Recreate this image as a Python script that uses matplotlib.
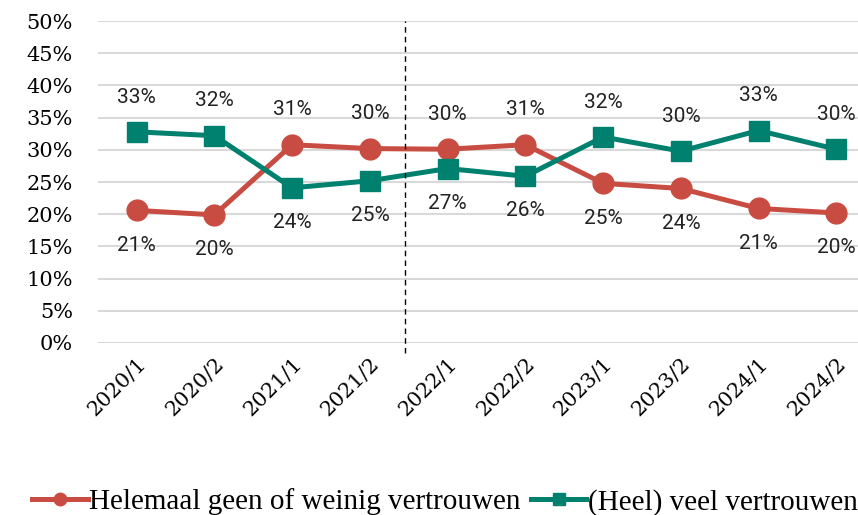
import numpy as np
import matplotlib
matplotlib.use("Agg")
import matplotlib.pyplot as plt

# data
periods = ["2020/1", "2020/2", "2021/1", "2021/2", "2022/1",
           "2022/2", "2023/1", "2023/2", "2024/1", "2024/2"]
weinig = [20.6, 19.9, 30.8, 30.2, 30.1, 30.8, 24.8, 24.0, 20.9, 20.2]
veel = [32.8, 32.2, 24.1, 25.2, 27.1, 25.9, 32.0, 29.8, 33.0, 30.1]
labels_weinig = ["21%", "20%", "31%", "30%", "30%", "31%", "25%", "24%", "21%", "20%"]
labels_veel = ["33%", "32%", "24%", "25%", "27%", "26%", "32%", "30%", "33%", "30%"]

red = "#C94C42"
teal = "#00806F"

fig = plt.figure(figsize=(8.58, 5.15), dpi=100)
ax = fig.add_axes([0.114, 0.334, 0.906, 0.625])

x = np.arange(len(periods))
ax.plot(x, weinig, color=red, lw=3.6, marker="o", ms=15, label="Helemaal geen of weinig vertrouwen")
ax.plot(x, veel, color=teal, lw=3.6, marker="s", ms=15, label="(Heel) veel vertrouwen")

# labels: higher series above, lower below
for i in range(len(x)):
    for val, txt, other in [(weinig[i], labels_weinig[i], veel[i]), (veel[i], labels_veel[i], weinig[i])]:
        off = 25 if val >= other else -25
        ax.annotate(txt, (x[i], val), xytext=(0, off), textcoords="offset points",
                    ha="center", va="center", fontsize=15, family="Roboto", color="#222222")

ax.axvline(3.45, ymin=-0.03, ymax=1.0, color="black", lw=1, ls=(0, (4, 3)), clip_on=False)

ax.set_xlim(-0.5, 9.5)
ax.set_ylim(0, 50)
ax.set_yticks(np.arange(0, 51, 5))
ax.set_yticklabels([f"{v}%" for v in range(0, 51, 5)], family="DejaVu Serif", fontsize=15)
ax.set_xticks(x)
ax.set_xticklabels(periods, rotation=45, ha="right", rotation_mode="anchor",
                   family="DejaVu Serif", fontsize=15)
ax.tick_params(length=0)
ax.tick_params(axis="y", pad=18)
ax.tick_params(axis="x", pad=8)
ax.grid(axis="y", color="#D9D9D9", lw=1.5)
ax.set_axisbelow(True)
for s in ax.spines.values():
    s.set_visible(False)

fig.legend(loc="center left", bbox_to_anchor=(0.007, 0.025), ncol=2, frameon=False,
           prop={"family": "Liberation Serif", "size": 21}, markerscale=0.6,
           handlelength=1.9, handletextpad=0.05, columnspacing=0.35)

fig.savefig("out.png", dpi=100)
